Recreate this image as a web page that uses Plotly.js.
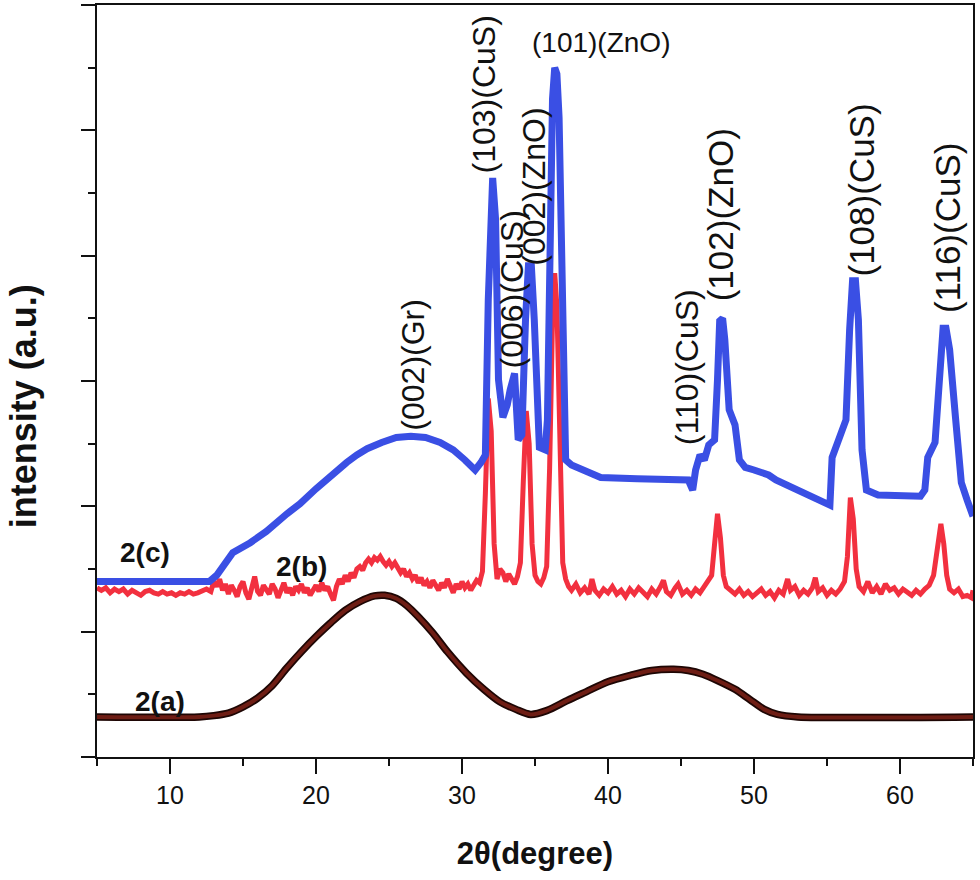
<!DOCTYPE html>
<html>
<head>
<meta charset="utf-8">
<script src="https://cdn.plot.ly/plotly-3.0.1.min.js"></script>
<style>html,body{margin:0;padding:0;background:#fff;}#chart{width:980px;height:880px;}</style>
</head>
<body>
<div id="chart"></div>
<script>
// ---- 2(a) graphene-like broad pattern ----
const xA = [5, 12, 13, 14, 15, 16, 17, 18, 19, 20, 21, 22, 23, 24, 24.7, 25.5, 26.2, 27, 28, 29, 30.3, 31.5, 32.6, 33.7, 34.7, 35.8, 37.2, 38.5, 40, 41.5, 43, 44.5, 45.5, 46.5, 47.5, 48.7, 49.7, 50.7, 51.6, 53, 65];
const yA = [0.32, 0.32, 0.33, 0.35, 0.40, 0.47, 0.57, 0.71, 0.84, 0.96, 1.07, 1.17, 1.24, 1.285, 1.29, 1.265, 1.21, 1.12, 0.99, 0.84, 0.67, 0.54, 0.44, 0.38, 0.34, 0.37, 0.45, 0.52, 0.60, 0.65, 0.69, 0.70, 0.69, 0.66, 0.61, 0.54, 0.46, 0.38, 0.34, 0.32, 0.32];

// ---- 2(b) red noisy pattern ----
const xB = [5.0,5.3,5.6,5.9,6.2,6.5,6.8,7.1,7.4,7.7,8.0,8.3,8.6,8.9,9.2,9.5,9.8,10.1,10.4,10.7,11.0,11.3,11.6,11.9,12.2,12.5,12.8,13.0,13.2,13.4,13.6,13.8,14.0,14.2,14.4,14.6,14.8,15.0,15.2,15.4,15.6,15.8,16.0,16.2,16.4,16.6,16.8,17.0,17.2,17.4,17.6,17.8,18.0,18.2,18.4,18.6,18.8,19.0,19.2,19.4,19.6,19.8,20.0,20.2,20.4,20.6,20.8,21.0,21.2,21.4,21.6,21.8,22.0,22.2,22.4,22.6,22.8,23.0,23.2,23.4,23.6,23.8,24.0,24.2,24.4,24.6,24.8,25.0,25.2,25.4,25.6,25.8,26.0,26.2,26.4,26.6,26.8,27.0,27.2,27.4,27.6,27.8,28.0,28.2,28.4,28.6,28.8,29.0,29.2,29.4,29.6,29.8,30.0,30.2,30.4,30.6,30.8,31.0,31.2,31.4,31.6,31.8,32.0,32.2,32.4,32.6,32.8,33.0,33.2,33.4,33.6,33.8,34.0,34.2,34.4,34.6,34.8,35.0,35.2,35.4,35.6,35.8,36.0,36.2,36.35,36.5,36.7,36.9,37.1,37.3,37.5,37.8,38.1,38.4,38.7,38.9,39.1,39.4,39.7,40.0,40.3,40.6,40.9,41.2,41.5,41.8,42.1,42.4,42.7,43.0,43.3,43.6,43.8,44.0,44.3,44.6,44.8,45.1,45.4,45.7,46.0,46.3,46.6,46.9,47.1,47.3,47.5,47.7,47.9,48.1,48.4,48.7,49.0,49.3,49.6,49.9,50.2,50.5,50.8,51.1,51.4,51.7,52.0,52.3,52.5,52.8,53.1,53.4,53.7,54.0,54.2,54.4,54.7,55.0,55.3,55.6,55.9,56.2,56.4,56.6,56.8,57.0,57.2,57.5,57.8,58.1,58.4,58.7,59.0,59.3,59.6,59.9,60.2,60.5,60.8,61.1,61.4,61.7,62.0,62.3,62.6,62.8,63.0,63.2,63.4,63.7,64.0,64.3,64.6,64.9,65.0];
const yB = [1.35,1.33,1.35,1.31,1.34,1.32,1.34,1.30,1.33,1.31,1.29,1.32,1.33,1.31,1.30,1.32,1.30,1.31,1.29,1.31,1.30,1.32,1.30,1.31,1.33,1.34,1.32,1.40,1.36,1.42,1.33,1.38,1.30,1.37,1.33,1.28,1.36,1.40,1.31,1.26,1.35,1.44,1.32,1.29,1.37,1.33,1.30,1.38,1.34,1.27,1.33,1.39,1.31,1.35,1.29,1.36,1.33,1.38,1.31,1.35,1.29,1.34,1.37,1.32,1.39,1.33,1.36,1.30,1.25,1.36,1.42,1.38,1.45,1.40,1.47,1.43,1.50,1.52,1.49,1.55,1.58,1.55,1.59,1.57,1.60,1.56,1.53,1.56,1.52,1.55,1.50,1.47,1.50,1.44,1.47,1.42,1.45,1.39,1.43,1.37,1.40,1.35,1.41,1.37,1.33,1.39,1.35,1.42,1.36,1.31,1.38,1.34,1.40,1.35,1.38,1.33,1.37,1.41,1.39,1.48,2.10,2.86,2.60,1.70,1.42,1.50,1.47,1.40,1.46,1.42,1.38,1.44,1.55,2.20,2.76,2.50,1.70,1.45,1.40,1.38,1.43,1.52,2.30,3.50,3.86,3.60,2.40,1.55,1.42,1.36,1.33,1.38,1.31,1.35,1.30,1.42,1.33,1.29,1.34,1.31,1.36,1.30,1.33,1.28,1.34,1.30,1.35,1.31,1.28,1.34,1.30,1.36,1.41,1.32,1.29,1.35,1.38,1.30,1.33,1.29,1.34,1.31,1.36,1.40,1.45,1.70,1.94,1.75,1.45,1.36,1.33,1.30,1.34,1.29,1.32,1.28,1.31,1.34,1.29,1.32,1.27,1.33,1.30,1.42,1.33,1.36,1.29,1.33,1.30,1.35,1.43,1.32,1.35,1.29,1.33,1.30,1.34,1.40,1.60,2.07,1.90,1.50,1.36,1.32,1.40,1.31,1.36,1.30,1.38,1.33,1.35,1.30,1.34,1.31,1.29,1.33,1.30,1.34,1.37,1.45,1.70,1.86,1.70,1.45,1.34,1.31,1.34,1.28,1.29,1.27,1.33];

// ---- 2(c) blue pattern ----
const xC = [5, 12.7, 13.2, 14.3, 15.5, 16.6, 18, 18.9, 20, 21.2, 22.1, 22.8, 23.5, 24.5, 25.5, 26.5, 27.5, 28.5, 29.4, 30.2, 30.9, 31.3, 31.6, 31.8, 31.95, 32.1, 32.3, 32.5, 32.8, 33.1, 33.3, 33.6, 33.85, 34.1, 34.35, 34.55, 34.75, 34.95, 35.3, 35.7, 35.85, 36.05, 36.2, 36.35, 36.5, 36.65, 36.85, 37.1, 37.5, 39.5, 42, 45.5, 45.8, 46.0, 46.3, 46.6, 46.9, 47.3, 47.5, 47.65, 47.85, 48.0, 48.3, 48.7, 49.0, 49.4, 50, 51, 51.5, 55.2, 55.35, 55.9, 56.3, 56.55, 56.75, 56.95, 57.15, 57.4, 57.7, 58.5, 61.4, 61.7, 61.9, 62.4, 62.7, 62.95, 63.15, 63.4, 63.8, 64.2, 64.6, 65];
const yC = [1.40, 1.40, 1.45, 1.63, 1.71, 1.80, 1.94, 2.02, 2.14, 2.27, 2.35, 2.41, 2.46, 2.51, 2.55, 2.56, 2.55, 2.51, 2.45, 2.37, 2.29, 2.35, 2.41, 3.65, 4.45, 4.62, 4.29, 3.01, 2.71, 2.81, 2.93, 3.06, 2.53, 2.57, 3.49, 3.92, 3.92, 3.49, 2.47, 2.45, 2.69, 4.44, 5.25, 5.50, 5.45, 5.10, 3.65, 2.37, 2.33, 2.23, 2.22, 2.21, 2.13, 2.29, 2.41, 2.37, 2.49, 2.53, 3.01, 3.48, 3.50, 3.33, 2.77, 2.65, 2.37, 2.31, 2.29, 2.25, 2.21, 2.01, 2.39, 2.55, 2.69, 3.41, 3.80, 3.80, 3.49, 2.45, 2.13, 2.09, 2.08, 2.13, 2.39, 2.51, 3.01, 3.42, 3.42, 3.25, 2.71, 2.19, 2.05, 1.92];

// ---- peak labels ----
const peakText = ['(002)(Gr)', '(103)(CuS)', '(006)(CuS)', '(002)(ZnO)', '(110)(CuS)', '(102)(ZnO)', '(108)(CuS)', '(116)(CuS)'];
const peakX = [26.64, 31.54, 33.42, 34.93, 45.41, 47.67, 57.33, 63.22];
const peakY = [3.13, 5.29, 3.73, 4.55, 3.11, 4.33, 4.52, 4.22];
const peakSize = [32, 32, 32, 32, 32, 35, 35, 35];
const topLabel = '(101)(ZnO)';
const topX = 39.52, topY = 5.70;

// ---- series labels ----
const seriesText = ['2(c)', '2(b)', '2(a)'];
const seriesX = [8.29, 19.04, 9.32];
const seriesY = [1.63, 1.52, 0.44];

const traces = [
  {x: xA, y: yA, mode: 'lines', line: {color: '#1e0604', width: 7.5, shape: 'spline', smoothing: 0.8}, hoverinfo: 'skip'},
  {x: xA, y: yA, mode: 'lines', line: {color: '#6e1d14', width: 4, shape: 'spline', smoothing: 0.8}, hoverinfo: 'skip'},
  {x: xB, y: yB, mode: 'lines', line: {color: '#f2303f', width: 5}, hoverinfo: 'skip'},
  {x: xC, y: yC, mode: 'lines', line: {color: '#3a4fe4', width: 7}, hoverinfo: 'skip'}
];

const annotations = [];
for (let i = 0; i < peakText.length; i++) {
  annotations.push({x: peakX[i], y: peakY[i], xref: 'x', yref: 'y', text: peakText[i], showarrow: false,
    textangle: -90, xanchor: 'center', yanchor: 'middle',
    font: {family: 'Liberation Sans, Arial, sans-serif', size: peakSize[i], color: '#111'}});
}
annotations.push({x: topX, y: topY, xref: 'x', yref: 'y', text: topLabel, showarrow: false,
  xanchor: 'center', yanchor: 'middle', font: {family: 'Liberation Sans, Arial, sans-serif', size: 28, color: '#111'}});
for (let i = 0; i < seriesText.length; i++) {
  annotations.push({x: seriesX[i], y: seriesY[i], xref: 'x', yref: 'y', text: seriesText[i], showarrow: false,
    xanchor: 'center', yanchor: 'middle', font: {family: 'Liberation Sans, Arial, sans-serif', size: 28, color: '#111', weight: 'bold'}});
}
// y-axis title placed as rotated text left of the axis
annotations.push({x: -0.084, y: 0.467, xref: 'paper', yref: 'paper', text: 'intensity (a.u.)', showarrow: false,
  textangle: -90, xanchor: 'center', yanchor: 'middle',
  font: {family: 'Liberation Sans, Arial, sans-serif', size: 36, color: '#111', weight: 'bold'}});

const layout = {
  width: 980, height: 880,
  margin: {l: 97, r: 7, t: 5, b: 123},
  paper_bgcolor: '#fff', plot_bgcolor: '#fff',
  showlegend: false,
  font: {family: 'Liberation Sans, Arial, sans-serif', color: '#111'},
  xaxis: {
    range: [5, 65], tick0: 0, dtick: 10, ticks: 'outside', ticklen: 15, tickwidth: 2, tickcolor: '#111',
    showline: true, linecolor: '#111', linewidth: 2, mirror: true, showgrid: false, zeroline: false,
    tickfont: {size: 25, color: '#111'},
    minor: {dtick: 5, ticks: 'outside', ticklen: 7, tickwidth: 2, tickcolor: '#111', showgrid: false},
    title: {text: '2θ(degree)', font: {size: 31, weight: 'bold', color: '#111'}, standoff: 34}
  },
  yaxis: {
    range: [0, 6], tick0: 0, dtick: 1, ticks: 'outside', ticklen: 14, tickwidth: 2, tickcolor: '#111',
    showticklabels: false,
    showline: true, linecolor: '#111', linewidth: 2, mirror: true, showgrid: false, zeroline: false,
    minor: {dtick: 0.5, ticks: 'outside', ticklen: 7, tickwidth: 2, tickcolor: '#111', showgrid: false}
  },
  annotations: annotations
};

Plotly.newPlot('chart', traces, layout, {displayModeBar: false, staticPlot: true});
</script>
</body>
</html>
